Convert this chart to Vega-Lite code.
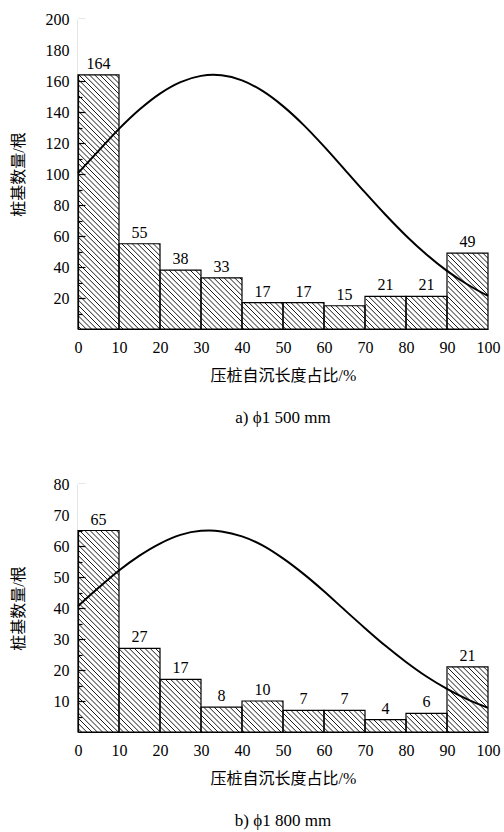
{
 "$schema": "https://vega.github.io/schema/vega-lite/v6.json",
 "background": "white",
 "padding": {"left": 10, "top": 11, "right": 8, "bottom": 4},
 "spacing": 50,
 "config": {
  "view": {"stroke": null},
  "font": "Liberation Serif, Noto Sans CJK SC",
  "scale": {"continuousPadding": 0},
  "axis": {"grid": false, "zindex": 2, "domainColor": "black", "domainWidth": 1.2, "tickColor": "black", "tickWidth": 1.2, "labelColor": "black", "labelFont": "Liberation Serif", "labelFontSize": 16, "titleFont": "Liberation Serif, Noto Sans CJK SC", "titleFontSize": 16, "titleFontWeight": "normal", "titleColor": "black", "labelOverlap": false, "labelFlush": false},
  "axisX": {"ticks": false, "labelPadding": 10, "titlePadding": 12},
  "axisY": {"labelPadding": 16, "titlePadding": 19, "labelOverlap": false},
  "title": {"font": "Liberation Serif", "fontSize": 17, "fontWeight": "normal", "color": "black", "orient": "bottom", "offset": 27, "anchor": "middle"}
 },
 "datasets": {
  "bars_a": [
   {"start": 0, "end": 10, "mid": 5, "count": 164},
   {"start": 10, "end": 20, "mid": 15, "count": 55},
   {"start": 20, "end": 30, "mid": 25, "count": 38},
   {"start": 30, "end": 40, "mid": 35, "count": 33},
   {"start": 40, "end": 50, "mid": 45, "count": 17},
   {"start": 50, "end": 60, "mid": 55, "count": 17},
   {"start": 60, "end": 70, "mid": 65, "count": 15},
   {"start": 70, "end": 80, "mid": 75, "count": 21},
   {"start": 80, "end": 90, "mid": 85, "count": 21},
   {"start": 90, "end": 100, "mid": 95, "count": 49}
  ],
  "curve_a": [
   {"x": 0, "y": 100.6}, {"x": 5, "y": 114.9}, {"x": 10, "y": 129.1}, {"x": 15, "y": 141.6},
   {"x": 20, "y": 151.9}, {"x": 25, "y": 159.3}, {"x": 30, "y": 163.3}, {"x": 33, "y": 164},
   {"x": 35, "y": 163.7}, {"x": 40, "y": 160.4}, {"x": 45, "y": 153.6}, {"x": 50, "y": 143.8},
   {"x": 55, "y": 131.7}, {"x": 60, "y": 117.8}, {"x": 65, "y": 103.0}, {"x": 70, "y": 88.1},
   {"x": 75, "y": 73.7}, {"x": 80, "y": 60.2}, {"x": 85, "y": 48.1}, {"x": 90, "y": 37.5},
   {"x": 95, "y": 28.7}, {"x": 100, "y": 21.3}
  ],
  "bars_b": [
   {"start": 0, "end": 10, "mid": 5, "count": 65},
   {"start": 10, "end": 20, "mid": 15, "count": 27},
   {"start": 20, "end": 30, "mid": 25, "count": 17},
   {"start": 30, "end": 40, "mid": 35, "count": 8},
   {"start": 40, "end": 50, "mid": 45, "count": 10},
   {"start": 50, "end": 60, "mid": 55, "count": 7},
   {"start": 60, "end": 70, "mid": 65, "count": 7},
   {"start": 70, "end": 80, "mid": 75, "count": 4},
   {"start": 80, "end": 90, "mid": 85, "count": 6},
   {"start": 90, "end": 100, "mid": 95, "count": 21}
  ],
  "curve_b": [
   {"x": 0, "y": 40.6}, {"x": 5, "y": 46.5}, {"x": 10, "y": 52.1}, {"x": 15, "y": 56.9},
   {"x": 20, "y": 60.8}, {"x": 25, "y": 63.6}, {"x": 30, "y": 64.9}, {"x": 32, "y": 65},
   {"x": 35, "y": 64.7}, {"x": 40, "y": 63.1}, {"x": 45, "y": 60.2}, {"x": 50, "y": 56.0},
   {"x": 55, "y": 51.0}, {"x": 60, "y": 45.4}, {"x": 65, "y": 39.4}, {"x": 70, "y": 33.5},
   {"x": 75, "y": 27.8}, {"x": 80, "y": 22.6}, {"x": 85, "y": 17.9}, {"x": 90, "y": 13.9},
   {"x": 95, "y": 10.5}, {"x": 100, "y": 7.8}
  ]
 },
 "vconcat": [
  {
   "width": 410, "height": 310,
   "title": {"text": "a) ϕ1 500 mm"},
   "layer": [
    {
     "data": {"values": [{}]},
     "mark": {"type": "point", "shape": "M-3 -1l2 2m-1.975 -2l2 2m-1.975 -2l2 2m-1.975 -2l2 2m-1.975 -2l2 2m-1.975 -2l2 2m-1.975 -2l2 2m-1.975 -2l2 2m-1.975 -2l2 2m-1.975 -2l2 2m-1.975 -2l2 2m-1.975 -2l2 2m-1.975 -2l2 2m-1.975 -2l2 2m-1.975 -2l2 2m-1.975 -2l2 2m-1.975 -2l2 2m-1.975 -2l2 2m-1.975 -2l2 2m-1.975 -2l2 2m-1.975 -2l2 2m-1.975 -2l2 2m-1.975 -2l2 2m-1.975 -2l2 2m-1.975 -2l2 2m-1.975 -2l2 2m-1.975 -2l2 2m-1.975 -2l2 2m-1.975 -2l2 2m-1.975 -2l2 2m-1.975 -2l2 2m-1.975 -2l2 2m-1.975 -2l2 2m-1.975 -2l2 2m-1.975 -2l2 2m-1.975 -2l2 2m-1.975 -2l2 2m-1.975 -2l2 2m-1.975 -2l2 2m-1.975 -2l2 2m-1.975 -2l2 2m-1.975 -2l2 2m-1.975 -2l2 2m-1.975 -2l2 2m-1.975 -2l2 2m-1.975 -2l2 2m-1.975 -2l2 2m-1.975 -2l2 2m-1.975 -2l2 2m-1.975 -2l2 2m-1.975 -2l2 2m-1.975 -2l2 2m-1.975 -2l2 2m-1.975 -2l2 2m-1.975 -2l2 2m-1.975 -2l2 2m-1.975 -2l2 2m-1.975 -2l2 2m-1.975 -2l2 2m-1.975 -2l2 2m-1.975 -2l2 2m-1.975 -2l2 2m-1.975 -2l2 2m-1.975 -2l2 2m-1.975 -2l2 2m-1.975 -2l2 2m-1.975 -2l2 2m-1.975 -2l2 2m-1.975 -2l2 2m-1.975 -2l2 2m-1.975 -2l2 2m-1.975 -2l2 2m-1.975 -2l2 2m-1.975 -2l2 2m-1.975 -2l2 2m-1.975 -2l2 2m-1.975 -2l2 2m-1.975 -2l2 2m-1.975 -2l2 2m-1.975 -2l2 2m-1.975 -2l2 2m-1.975 -2l2 2m-1.975 -2l2 2m-1.975 -2l2 2m-1.975 -2l2 2m-1.975 -2l2 2m-1.975 -2l2 2m-1.975 -2l2 2m-1.975 -2l2 2m-1.975 -2l2 2m-1.975 -2l2 2m-1.975 -2l2 2m-1.975 -2l2 2m-1.975 -2l2 2m-1.975 -2l2 2m-1.975 -2l2 2m-1.975 -2l2 2m-1.975 -2l2 2m-1.975 -2l2 2m-1.975 -2l2 2m-1.975 -2l2 2m-1.975 -2l2 2m-1.975 -2l2 2m-1.975 -2l2 2m-1.975 -2l2 2m-1.975 -2l2 2m-1.975 -2l2 2m-1.975 -2l2 2m-1.975 -2l2 2m-1.975 -2l2 2m-1.975 -2l2 2m-1.975 -2l2 2m-1.975 -2l2 2m-1.975 -2l2 2m-1.975 -2l2 2m-1.975 -2l2 2m-1.975 -2l2 2m-1.975 -2l2 2m-1.975 -2l2 2m-1.975 -2l2 2m-1.975 -2l2 2m-1.975 -2l2 2m-1.975 -2l2 2m-1.975 -2l2 2m-1.975 -2l2 2m-1.975 -2l2 2m-1.975 -2l2 2m-1.975 -2l2 2m-1.975 -2l2 2m-1.975 -2l2 2m-1.975 -2l2 2m-1.975 -2l2 2m-1.975 -2l2 2m-1.975 -2l2 2m-1.975 -2l2 2m-1.975 -2l2 2m-1.975 -2l2 2m-1.975 -2l2 2m-1.975 -2l2 2m-1.975 -2l2 2m-1.975 -2l2 2m-1.975 -2l2 2m-1.975 -2l2 2m-1.975 -2l2 2m-1.975 -2l2 2m-1.975 -2l2 2m-1.975 -2l2 2m-1.975 -2l2 2m-1.975 -2l2 2m-1.975 -2l2 2m-1.975 -2l2 2m-1.975 -2l2 2m-1.975 -2l2 2m-1.975 -2l2 2m-1.975 -2l2 2m-1.975 -2l2 2", "size": 176400, "filled": false, "stroke": "black", "strokeWidth": 0.9, "opacity": 1, "clip": true},
     "encoding": {
      "x": {"datum": 50, "type": "quantitative", "scale": {"domain": [0, 100], "nice": false, "padding": 0}, "title": "压桩自沉长度占比/%"},
      "y": {"datum": 100, "type": "quantitative", "scale": {"domain": [0, 200], "nice": false, "padding": 0}, "title": "桩基数量/根"}
     }
    },
    {
     "data": {"name": "bars_a"},
     "mark": {"type": "bar", "orient": "vertical", "fill": "white", "strokeWidth": 0, "x2Offset": 1, "y2Offset": -8, "clip": true},
     "encoding": {
      "x": {"field": "start", "type": "quantitative", "scale": {"domain": [0, 100], "nice": false, "padding": 0}, "title": "压桩自沉长度占比/%"},
      "x2": {"field": "end"},
      "y": {"field": "count", "type": "quantitative", "scale": {"domain": [0, 200], "nice": false, "padding": 0}, "title": "桩基数量/根"},
      "y2": {"datum": 200}
     }
    },
    {
     "data": {"name": "bars_a"},
     "mark": {"type": "bar", "orient": "vertical", "fill": null, "fillOpacity": 0, "stroke": "black", "strokeWidth": 1.2},
     "encoding": {
      "x": {"field": "start", "type": "quantitative", "scale": {"domain": [0, 100], "nice": false, "padding": 0}, "title": "压桩自沉长度占比/%", "axis": {"values": [0, 10, 20, 30, 40, 50, 60, 70, 80, 90, 100], "tickCount": 100, "labelOverlap": false, "labelFlush": false}},
      "x2": {"field": "end"},
      "y": {"field": "count", "type": "quantitative", "scale": {"domain": [0, 200], "nice": false, "padding": 0}, "title": "桩基数量/根", "axis": {"values": [10, 20, 30, 40, 50, 60, 70, 80, 90, 100, 110, 120, 130, 140, 150, 160, 170, 180, 190, 200], "tickCount": 100, "labelExpr": "(datum.value % 20 == 0) ? datum.label : ''", "labelOverlap": false, "tickSize": {"condition": {"test": "datum.value % 20 != 0", "value": -4}, "value": -7}}},
      "y2": {"datum": 0}
     }
    },
    {
     "data": {"name": "curve_a"},
     "mark": {"type": "line", "color": "black", "strokeWidth": 2, "interpolate": "monotone"},
     "encoding": {
      "x": {"field": "x", "type": "quantitative", "scale": {"domain": [0, 100], "nice": false, "padding": 0}, "title": "压桩自沉长度占比/%"},
      "y": {"field": "y", "type": "quantitative", "scale": {"domain": [0, 200], "nice": false, "padding": 0}, "title": "桩基数量/根"}
     }
    },
    {
     "data": {"name": "bars_a"},
     "mark": {"type": "text", "baseline": "alphabetic", "dy": -6, "fontSize": 16, "font": "Liberation Serif", "color": "black"},
     "encoding": {
      "x": {"field": "mid", "type": "quantitative", "scale": {"domain": [0, 100], "nice": false, "padding": 0}, "title": "压桩自沉长度占比/%"},
      "y": {"field": "count", "type": "quantitative", "scale": {"domain": [0, 200], "nice": false, "padding": 0}, "title": "桩基数量/根"},
      "text": {"field": "count", "type": "quantitative"}
     }
    }
   ]
  },
  {
   "width": 410, "height": 248,
   "title": {"text": "b) ϕ1 800 mm"},
   "layer": [
    {
     "data": {"values": [{}]},
     "mark": {"type": "point", "shape": "M-3 -1l2 2m-1.975 -2l2 2m-1.975 -2l2 2m-1.975 -2l2 2m-1.975 -2l2 2m-1.975 -2l2 2m-1.975 -2l2 2m-1.975 -2l2 2m-1.975 -2l2 2m-1.975 -2l2 2m-1.975 -2l2 2m-1.975 -2l2 2m-1.975 -2l2 2m-1.975 -2l2 2m-1.975 -2l2 2m-1.975 -2l2 2m-1.975 -2l2 2m-1.975 -2l2 2m-1.975 -2l2 2m-1.975 -2l2 2m-1.975 -2l2 2m-1.975 -2l2 2m-1.975 -2l2 2m-1.975 -2l2 2m-1.975 -2l2 2m-1.975 -2l2 2m-1.975 -2l2 2m-1.975 -2l2 2m-1.975 -2l2 2m-1.975 -2l2 2m-1.975 -2l2 2m-1.975 -2l2 2m-1.975 -2l2 2m-1.975 -2l2 2m-1.975 -2l2 2m-1.975 -2l2 2m-1.975 -2l2 2m-1.975 -2l2 2m-1.975 -2l2 2m-1.975 -2l2 2m-1.975 -2l2 2m-1.975 -2l2 2m-1.975 -2l2 2m-1.975 -2l2 2m-1.975 -2l2 2m-1.975 -2l2 2m-1.975 -2l2 2m-1.975 -2l2 2m-1.975 -2l2 2m-1.975 -2l2 2m-1.975 -2l2 2m-1.975 -2l2 2m-1.975 -2l2 2m-1.975 -2l2 2m-1.975 -2l2 2m-1.975 -2l2 2m-1.975 -2l2 2m-1.975 -2l2 2m-1.975 -2l2 2m-1.975 -2l2 2m-1.975 -2l2 2m-1.975 -2l2 2m-1.975 -2l2 2m-1.975 -2l2 2m-1.975 -2l2 2m-1.975 -2l2 2m-1.975 -2l2 2m-1.975 -2l2 2m-1.975 -2l2 2m-1.975 -2l2 2m-1.975 -2l2 2m-1.975 -2l2 2m-1.975 -2l2 2m-1.975 -2l2 2m-1.975 -2l2 2m-1.975 -2l2 2m-1.975 -2l2 2m-1.975 -2l2 2m-1.975 -2l2 2m-1.975 -2l2 2m-1.975 -2l2 2m-1.975 -2l2 2m-1.975 -2l2 2m-1.975 -2l2 2m-1.975 -2l2 2m-1.975 -2l2 2m-1.975 -2l2 2m-1.975 -2l2 2m-1.975 -2l2 2m-1.975 -2l2 2m-1.975 -2l2 2m-1.975 -2l2 2m-1.975 -2l2 2m-1.975 -2l2 2m-1.975 -2l2 2m-1.975 -2l2 2m-1.975 -2l2 2m-1.975 -2l2 2m-1.975 -2l2 2m-1.975 -2l2 2m-1.975 -2l2 2m-1.975 -2l2 2m-1.975 -2l2 2m-1.975 -2l2 2m-1.975 -2l2 2m-1.975 -2l2 2m-1.975 -2l2 2m-1.975 -2l2 2m-1.975 -2l2 2m-1.975 -2l2 2m-1.975 -2l2 2m-1.975 -2l2 2m-1.975 -2l2 2m-1.975 -2l2 2m-1.975 -2l2 2m-1.975 -2l2 2m-1.975 -2l2 2m-1.975 -2l2 2m-1.975 -2l2 2m-1.975 -2l2 2m-1.975 -2l2 2m-1.975 -2l2 2m-1.975 -2l2 2m-1.975 -2l2 2m-1.975 -2l2 2m-1.975 -2l2 2m-1.975 -2l2 2m-1.975 -2l2 2m-1.975 -2l2 2m-1.975 -2l2 2m-1.975 -2l2 2m-1.975 -2l2 2m-1.975 -2l2 2m-1.975 -2l2 2m-1.975 -2l2 2m-1.975 -2l2 2m-1.975 -2l2 2m-1.975 -2l2 2m-1.975 -2l2 2m-1.975 -2l2 2m-1.975 -2l2 2m-1.975 -2l2 2m-1.975 -2l2 2m-1.975 -2l2 2m-1.975 -2l2 2m-1.975 -2l2 2m-1.975 -2l2 2m-1.975 -2l2 2m-1.975 -2l2 2m-1.975 -2l2 2", "size": 176400, "filled": false, "stroke": "black", "strokeWidth": 0.9, "opacity": 1, "clip": true},
     "encoding": {
      "x": {"datum": 50, "type": "quantitative", "scale": {"domain": [0, 100], "nice": false, "padding": 0}, "title": "压桩自沉长度占比/%"},
      "y": {"datum": 40, "type": "quantitative", "scale": {"domain": [0, 80], "nice": false, "padding": 0}, "title": "桩基数量/根"}
     }
    },
    {
     "data": {"name": "bars_b"},
     "mark": {"type": "bar", "orient": "vertical", "fill": "white", "strokeWidth": 0, "x2Offset": 1, "y2Offset": -8, "clip": true},
     "encoding": {
      "x": {"field": "start", "type": "quantitative", "scale": {"domain": [0, 100], "nice": false, "padding": 0}, "title": "压桩自沉长度占比/%"},
      "x2": {"field": "end"},
      "y": {"field": "count", "type": "quantitative", "scale": {"domain": [0, 80], "nice": false, "padding": 0}, "title": "桩基数量/根"},
      "y2": {"datum": 80}
     }
    },
    {
     "data": {"name": "bars_b"},
     "mark": {"type": "bar", "orient": "vertical", "fill": null, "fillOpacity": 0, "stroke": "black", "strokeWidth": 1.2},
     "encoding": {
      "x": {"field": "start", "type": "quantitative", "scale": {"domain": [0, 100], "nice": false, "padding": 0}, "title": "压桩自沉长度占比/%", "axis": {"values": [0, 10, 20, 30, 40, 50, 60, 70, 80, 90, 100], "tickCount": 100, "labelOverlap": false, "labelFlush": false}},
      "x2": {"field": "end"},
      "y": {"field": "count", "type": "quantitative", "scale": {"domain": [0, 80], "nice": false, "padding": 0}, "title": "桩基数量/根", "axis": {"values": [5, 10, 15, 20, 25, 30, 35, 40, 45, 50, 55, 60, 65, 70, 75, 80], "tickCount": 100, "labelExpr": "(datum.value % 10 == 0) ? datum.label : ''", "labelOverlap": false, "titlePadding": 27, "tickSize": {"condition": {"test": "datum.value % 10 != 0", "value": -4}, "value": -7}}},
      "y2": {"datum": 0}
     }
    },
    {
     "data": {"name": "curve_b"},
     "mark": {"type": "line", "color": "black", "strokeWidth": 2, "interpolate": "monotone"},
     "encoding": {
      "x": {"field": "x", "type": "quantitative", "scale": {"domain": [0, 100], "nice": false, "padding": 0}, "title": "压桩自沉长度占比/%"},
      "y": {"field": "y", "type": "quantitative", "scale": {"domain": [0, 80], "nice": false, "padding": 0}, "title": "桩基数量/根"}
     }
    },
    {
     "data": {"name": "bars_b"},
     "mark": {"type": "text", "baseline": "alphabetic", "dy": -6, "fontSize": 16, "font": "Liberation Serif", "color": "black"},
     "encoding": {
      "x": {"field": "mid", "type": "quantitative", "scale": {"domain": [0, 100], "nice": false, "padding": 0}, "title": "压桩自沉长度占比/%"},
      "y": {"field": "count", "type": "quantitative", "scale": {"domain": [0, 80], "nice": false, "padding": 0}, "title": "桩基数量/根"},
      "text": {"field": "count", "type": "quantitative"}
     }
    }
   ]
  }
 ]
}
